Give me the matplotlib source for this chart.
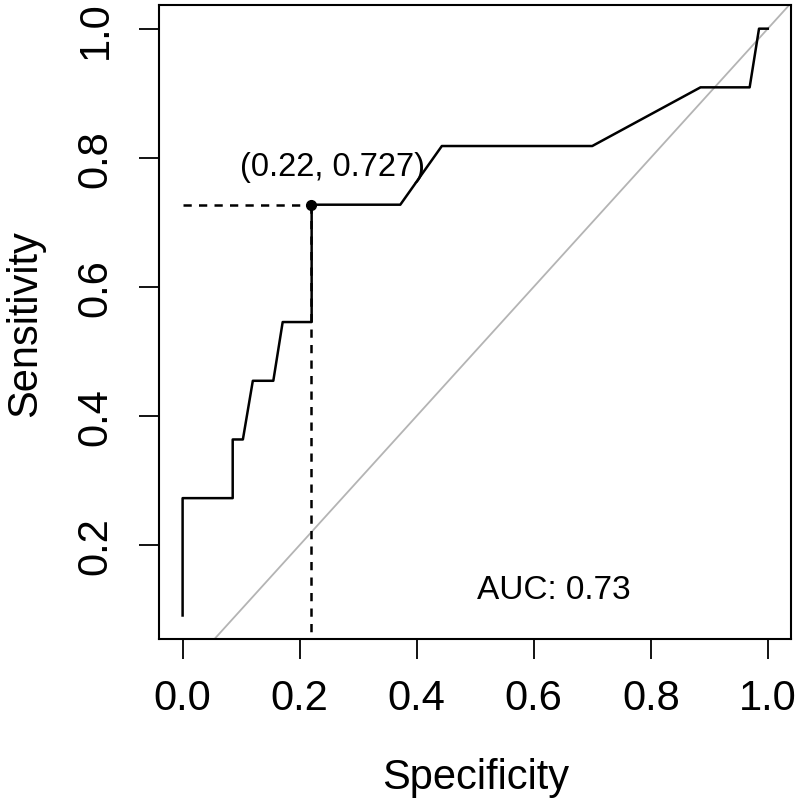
import numpy as np
import matplotlib
matplotlib.use('Agg')
from matplotlib import pyplot as plt

plt.rcParams['font.family'] = ['Liberation Sans', 'DejaVu Sans']

# ROC curve (sensitivity in steps of 1/11)
spec = [0.0, 0.0, 0.0856, 0.0856, 0.103, 0.120, 0.155, 0.171, 0.2205, 0.2205,
        0.372, 0.443, 0.700, 0.885, 0.969, 0.985, 1.0]
sens = [0.0909, 0.2727, 0.2727, 0.3636, 0.3636, 0.4545, 0.4545, 0.5455, 0.5455, 0.7273,
        0.7273, 0.8182, 0.8182, 0.9091, 0.9091, 1.0, 1.0]

# best threshold point
best_x = 0.22
best_y = 0.727
best_label = '(0.22, 0.727)'
auc_label = 'AUC: 0.73'

xticks = [0.0, 0.2, 0.4, 0.6, 0.8, 1.0]
yticks = [0.2, 0.4, 0.6, 0.8, 1.0]

fig = plt.figure(figsize=(8.0, 8.04), dpi=100)
ax = fig.add_axes([0.199, 0.204, 0.790, 0.788])

# chance line
ax.axline((0, 0), (1, 1), color='#b4b4b4', lw=1.3, zorder=1)

# roc curve
ax.plot(spec, sens, color='black', lw=1.8, zorder=3)

# threshold guides
ax.plot([0, best_x], [best_y, best_y], color='black', lw=1.8, ls=(0, (3.3, 2.9)), zorder=2)
ax.plot([best_x, best_x], [best_y, 0.0], color='black', lw=1.8, ls=(0, (3.3, 2.9)), zorder=2)
ax.plot([best_x], [best_y], 'o', color='black', ms=7, zorder=4)

ax.text(0.256, 0.773, best_label, ha='center', va='baseline', fontsize=23.5)
ax.text(0.634, 0.1185, auc_label, ha='center', va='baseline', fontsize=24)

ax.set_xlim(-0.04, 1.04)
ax.set_ylim(0.0545, 1.036)
ax.set_xticks(xticks)
ax.set_yticks(yticks)
ax.set_xticklabels(['%.1f' % v for v in xticks], fontsize=30)
ax.set_yticklabels(['%.1f' % v for v in yticks], fontsize=30, rotation=90, va='center')
ax.tick_params(axis='both', length=14.4, width=1.3, direction='out')
ax.tick_params(axis='x', pad=14)
ax.tick_params(axis='y', pad=17)

for s in ax.spines.values():
    s.set_linewidth(1.5)

ax.set_xlabel('Specificity', fontsize=30, labelpad=28)
ax.set_ylabel('Sensitivity', fontsize=30, labelpad=22)

plt.savefig('out.png', dpi=100)
